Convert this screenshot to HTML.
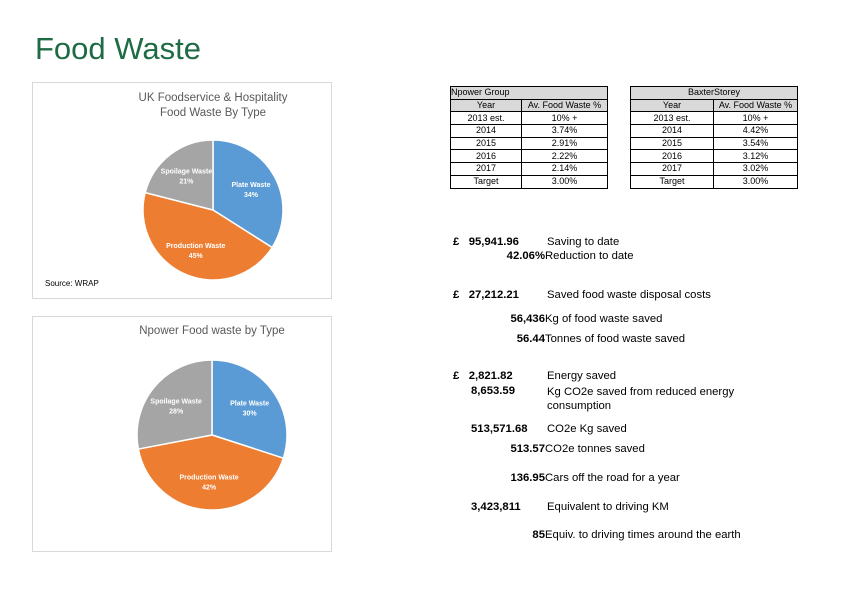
<!DOCTYPE html>
<html><head><meta charset="utf-8"><style>
body{margin:0;width:842px;height:595px;background:#fff;position:relative;font-family:"Liberation Sans",sans-serif;overflow:hidden}
.a{position:absolute;white-space:nowrap;font-size:11.3px;color:#000}
.b{font-weight:bold}
.r{text-align:right}
table{position:absolute;border-collapse:collapse;font-size:9px;font-family:"Liberation Sans",sans-serif}
td{border:1px solid #000;height:11.7px;padding:0;text-align:center;line-height:11px}
.h td{background:#d9d9d9}
.box{position:absolute;border:1px solid #d9d9d9;background:#fff}
</style></head><body>
<div class="a" style="left:35px;top:31px;font-size:31px;color:#1e6b45">Food Waste</div>

<div class="box" style="left:32px;top:82px;width:298px;height:215px"></div>
<div class="box" style="left:32px;top:316px;width:298px;height:234px"></div>
<svg id="pies" width="842" height="595" style="position:absolute;left:0;top:0"></svg>

<table style="left:450px;top:86px;width:158px">
<tr class="h"><td colspan="2" style="text-align:left">Npower Group</td></tr>
<tr class="h"><td style="width:70px">Year</td><td>Av. Food Waste %</td></tr>
<tr><td>2013 est.</td><td>10% +</td></tr><tr><td>2014</td><td>3.74%</td></tr><tr><td>2015</td><td>2.91%</td></tr><tr><td>2016</td><td>2.22%</td></tr><tr><td>2017</td><td>2.14%</td></tr><tr><td>Target</td><td>3.00%</td></tr>
</table>
<table style="left:630px;top:86px;width:168px">
<tr class="h"><td colspan="2">BaxterStorey</td></tr>
<tr class="h"><td style="width:82px">Year</td><td>Av. Food Waste %</td></tr>
<tr><td>2013 est.</td><td>10% +</td></tr><tr><td>2014</td><td>4.42%</td></tr><tr><td>2015</td><td>3.54%</td></tr><tr><td>2016</td><td>3.12%</td></tr><tr><td>2017</td><td>3.02%</td></tr><tr><td>Target</td><td>3.00%</td></tr>
</table>

<div class="a b" style="left:453px;top:236px">£&nbsp;&nbsp; 95,941.96</div>
<div class="a" style="left:547px;top:236px">Saving to date</div>
<div class="a b r" style="right:297px;top:250px">42.06%</div>
<div class="a" style="left:545px;top:250px">Reduction to date</div>
<div class="a b" style="left:453px;top:289px">£&nbsp;&nbsp; 27,212.21</div>
<div class="a" style="left:547px;top:289px">Saved food waste disposal costs</div>
<div class="a b r" style="right:297px;top:313px">56,436</div>
<div class="a" style="left:545px;top:313px">Kg of food waste saved</div>
<div class="a b r" style="right:297px;top:333px">56.44</div>
<div class="a" style="left:545px;top:333px">Tonnes of food waste saved</div>
<div class="a b" style="left:453px;top:370px">£&nbsp;&nbsp; 2,821.82</div>
<div class="a" style="left:547px;top:370px">Energy saved</div>
<div class="a b" style="left:471px;top:385px">8,653.59</div>
<div class="a" style="left:547px;top:385px;line-height:14px">Kg CO2e saved from reduced energy<br>consumption</div>
<div class="a b" style="left:471px;top:423px">513,571.68</div>
<div class="a" style="left:547px;top:423px">CO2e Kg saved</div>
<div class="a b r" style="right:297px;top:443px">513.57</div>
<div class="a" style="left:545px;top:443px">CO2e tonnes saved</div>
<div class="a b r" style="right:297px;top:472px">136.95</div>
<div class="a" style="left:545px;top:472px">Cars off the road for a year</div>
<div class="a b" style="left:471px;top:501px">3,423,811</div>
<div class="a" style="left:547px;top:501px">Equivalent to driving KM</div>
<div class="a b r" style="right:297px;top:529px">85</div>
<div class="a" style="left:545px;top:529px">Equiv. to driving times around the earth</div>

<script>
const categories = ["Plate Waste", "Production Waste", "Spoilage Waste"];
const ukValues = [34, 45, 21];
const npowerValues = [30, 42, 28];
const colors = ["#5b9bd5", "#ed7d31", "#a5a5a5"];
const NS = "http://www.w3.org/2000/svg";
const svg = document.getElementById("pies");
function txt(x, y, s, size, fill, weight, name) {
  const t = document.createElementNS(NS, "text");
  t.setAttribute("x", x); t.setAttribute("y", y);
  t.setAttribute("text-anchor", "middle");
  t.setAttribute("font-size", size); t.setAttribute("fill", fill);
  t.setAttribute("font-family", "Liberation Sans, sans-serif");
  if (weight) t.setAttribute("font-weight", weight);
  t.textContent = s;
  
  
  svg.appendChild(t);
}
function pie(cx, cy, r, vals, prefix) {
  const total = vals.reduce((a, b) => a + b, 0);
  let a0 = -Math.PI / 2;
  vals.forEach((v, i) => {
    const a1 = a0 + v / total * 2 * Math.PI;
    const p = document.createElementNS(NS, "path");
    const x0 = cx + r * Math.cos(a0), y0 = cy + r * Math.sin(a0);
    const x1 = cx + r * Math.cos(a1), y1 = cy + r * Math.sin(a1);
    p.setAttribute("d", `M${cx},${cy}L${x0},${y0}A${r},${r} 0 ${a1 - a0 > Math.PI ? 1 : 0} 1 ${x1},${y1}Z`);
    p.setAttribute("fill", colors[i]); p.setAttribute("stroke", "#fff"); p.setAttribute("stroke-width", "1.5");
    
    
    svg.appendChild(p);
    const m = (a0 + a1) / 2;
    const lx = cx + r * 0.62 * Math.cos(m), ly = cy + r * 0.62 * Math.sin(m);
    txt(lx, ly - 2, categories[i], 7, "#fff", "bold", prefix + "-label-" + i);
    txt(lx, ly + 8, v + "%", 7, "#fff", "bold", prefix + "-pct-" + i);
    a0 = a1;
  });
}
pie(213, 210, 70, ukValues, "uk");
pie(212, 435, 75, npowerValues, "npower");
txt(213, 101, "UK Foodservice & Hospitality", 11.5, "#595959", null, "uk-chart-title");
txt(213, 116, "Food Waste By Type", 11.5, "#595959", null, "uk-chart-title-2");
txt(212, 334, "Npower Food waste by Type", 11.5, "#595959", null, "npower-chart-title");
const s = document.createElementNS(NS, "text");
s.setAttribute("x", 45); s.setAttribute("y", 286); s.setAttribute("font-size", 8);
s.setAttribute("font-family", "Liberation Sans, sans-serif");
s.textContent = "Source: WRAP";


svg.appendChild(s);
</script>
</body></html>
